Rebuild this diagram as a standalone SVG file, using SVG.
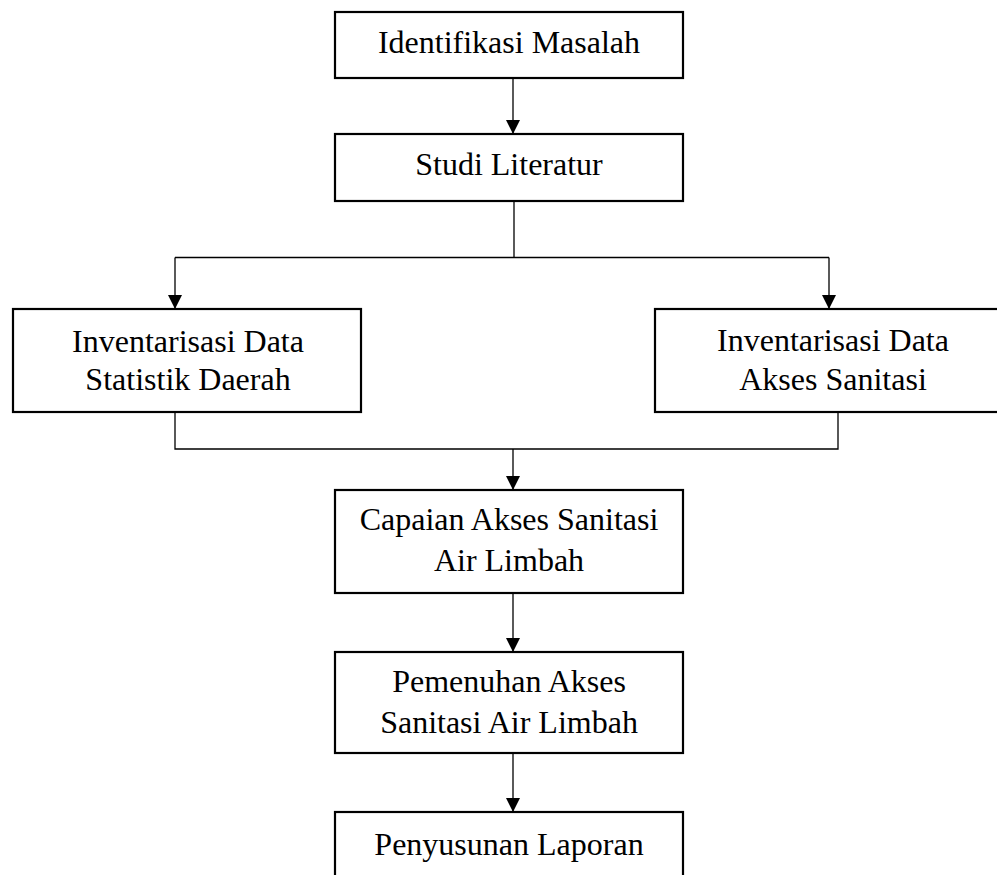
<svg xmlns="http://www.w3.org/2000/svg" width="997" height="875" viewBox="0 0 997 875">
<defs>
<marker id="ah" markerWidth="14" markerHeight="15" refX="14" refY="7" orient="auto" markerUnits="userSpaceOnUse">
<path d="M0,0 L14,7 L0,14 Z" fill="#000"/>
</marker>
<style>
.box{fill:#fff;stroke:#000;stroke-width:2.2}
.ln{fill:none;stroke:#000;stroke-width:1.3}
.t{font-family:"Liberation Serif","Times New Roman",serif;font-size:32px;fill:#000;text-anchor:middle}
</style>
</defs>
<rect width="997" height="875" fill="#fff"/>
<g id="connectors">
<path class="ln" d="M513,78 V134" marker-end="url(#ah)"/>
<path class="ln" d="M514,201 V257.5"/>
<path class="ln" d="M175,257.5 H829"/>
<path class="ln" d="M175,257.5 V309" marker-end="url(#ah)"/>
<path class="ln" d="M829,257.5 V309" marker-end="url(#ah)"/>
<path class="ln" d="M175,412 V449 H838 V412"/>
<path class="ln" d="M513,449 V490" marker-end="url(#ah)"/>
<path class="ln" d="M513,593 V652" marker-end="url(#ah)"/>
<path class="ln" d="M513,753 V812" marker-end="url(#ah)"/>
</g>
<g id="n1">
<rect class="box" x="335" y="12" width="348" height="66"/>
<text class="t" x="509" y="53">Identifikasi Masalah</text>
</g>
<g id="n2">
<rect class="box" x="335" y="134" width="348" height="67"/>
<text class="t" x="509" y="175">Studi Literatur</text>
</g>
<g id="n3">
<rect class="box" x="13" y="309" width="348" height="103"/>
<text class="t" x="188" y="352">Inventarisasi Data</text>
<text class="t" x="188" y="390">Statistik Daerah</text>
</g>
<g id="n4">
<rect class="box" x="655" y="309" width="360" height="103"/>
<text class="t" x="833" y="351">Inventarisasi Data</text>
<text class="t" x="833" y="390">Akses Sanitasi</text>
</g>
<g id="n5">
<rect class="box" x="335" y="490" width="348" height="103"/>
<text class="t" x="509" y="530">Capaian Akses Sanitasi</text>
<text class="t" x="509" y="571">Air Limbah</text>
</g>
<g id="n6">
<rect class="box" x="335" y="652" width="348" height="101"/>
<text class="t" x="509" y="692">Pemenuhan Akses</text>
<text class="t" x="509" y="733">Sanitasi Air Limbah</text>
</g>
<g id="n7">
<rect class="box" x="335" y="812" width="348" height="80"/>
<text class="t" x="509" y="855">Penyusunan Laporan</text>
</g>
</svg>
